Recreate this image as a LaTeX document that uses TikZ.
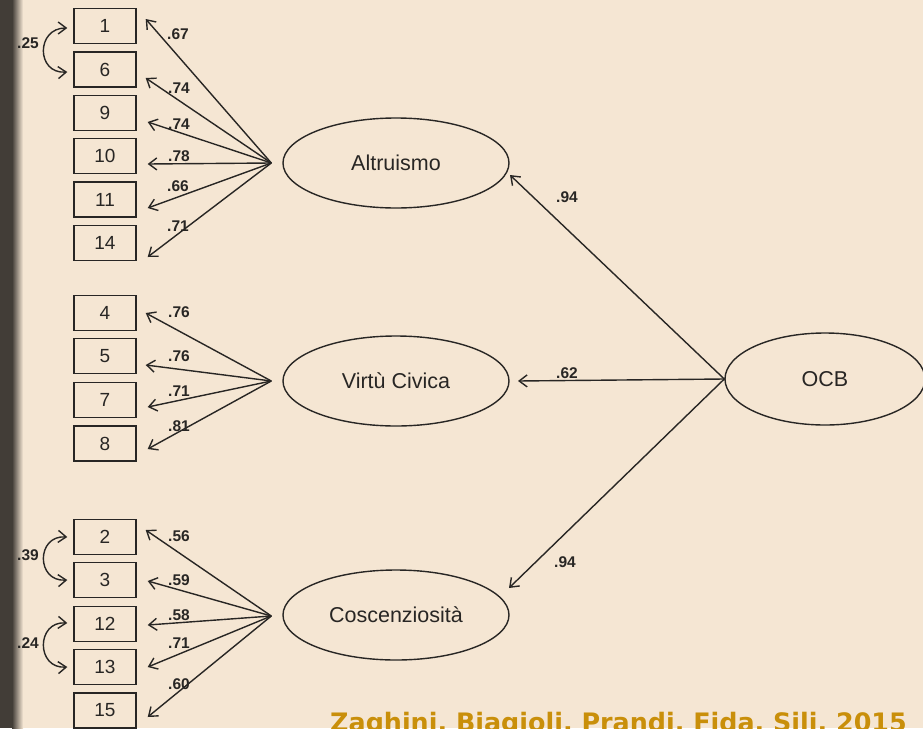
\documentclass[tikz,border=0pt]{standalone}
\usepackage{fontspec}
\setmainfont{Liberation Sans}
\newfontfamily\capfont{DejaVu Sans}
\usetikzlibrary{arrows.meta,shapes.geometric,calc}
\definecolor{bg}{RGB}{245,230,211}
\definecolor{ink}{RGB}{40,38,36}
\definecolor{gold}{RGB}{201,143,10}
\definecolor{strip}{RGB}{66,61,55}
\begin{document}
\begin{tikzpicture}[x=1pt,y=-1pt,
  obsbox/.style={draw=ink,line width=1.4pt,minimum width=62pt,minimum height=35pt,inner sep=0pt,font=\fontsize{19}{19}\selectfont,text=ink},
  latent/.style={ellipse,draw=ink,line width=1.4pt,minimum width=226pt,minimum height=90pt,inner sep=0pt,font=\fontsize{21.5}{21.5}\selectfont,text=ink},
  loadlbl/.style={font=\bfseries\fontsize{15.5}{15.5}\selectfont,text=ink,inner sep=0pt},
  loadarrow/.style={draw=ink,line width=1.4pt,-{Straight Barb[length=8pt,width=12pt]}},
  covarrow/.style={draw=ink,line width=1.4pt,{Straight Barb[length=8pt,width=12pt]}-{Straight Barb[length=8pt,width=12pt]}},
]
\fill[bg] (0,0) rectangle (923,728);
\fill[strip] (0,0) rectangle (12,728);
\shade[left color=strip,right color=bg] (12,0) rectangle (23,728);
\useasboundingbox (0,0) rectangle (923,728);

% latent variables
\node[latent] (altr) at (396,163) {Altruismo};
\node[latent] (virt) at (396,381) {Virtù Civica};
\node[latent] (cosc) at (396,615) {Coscenziosità};
\node[latent,minimum width=200pt,minimum height=92pt] (ocb) at (825,379) {OCB};

% observed items
\node[obsbox] (b1) at (105,26) {1};
\node[obsbox] (b6) at (105,69.5) {6};
\node[obsbox] (b9) at (105,113) {9};
\node[obsbox] (b10) at (105,156) {10};
\node[obsbox] (b11) at (105,199.5) {11};
\node[obsbox] (b14) at (105,243) {14};

\node[obsbox] (b4) at (105,313) {4};
\node[obsbox] (b5) at (105,356) {5};
\node[obsbox] (b7) at (105,400) {7};
\node[obsbox] (b8) at (105,443.5) {8};

\node[obsbox] (b2) at (105,537) {2};
\node[obsbox] (b3) at (105,580) {3};
\node[obsbox] (b12) at (105,624) {12};
\node[obsbox] (b13) at (105,667) {13};
\node[obsbox] (b15) at (105,710.5) {15};

% convergence points
\coordinate (cA) at ($(altr.west)+(-11,0)$);
\coordinate (cB) at ($(virt.west)+(-11,0)$);
\coordinate (cC) at ($(cosc.west)+(-11,1)$);

% arrow tips
\coordinate (t1) at ($(b1.east)+(9,-7)$);
\coordinate (t6) at ($(b6.east)+(9,8.5)$);
\coordinate (t9) at ($(b9.east)+(11,9)$);
\coordinate (t10) at ($(b10.east)+(11,8)$);
\coordinate (t11) at ($(b11.east)+(11,8.5)$);
\coordinate (t14) at ($(b14.east)+(11,14)$);
\coordinate (t4) at ($(b4.east)+(9,0)$);
\coordinate (t5) at ($(b5.east)+(9,9)$);
\coordinate (t7) at ($(b7.east)+(11,7)$);
\coordinate (t8) at ($(b8.east)+(11,5.5)$);
\coordinate (t2) at ($(b2.east)+(9,-7)$);
\coordinate (t3) at ($(b3.east)+(11,1)$);
\coordinate (t12) at ($(b12.east)+(11,1)$);
\coordinate (t13) at ($(b13.east)+(11,0)$);
\coordinate (t15) at ($(b15.east)+(11,6.5)$);

\foreach \t in {t1,t6,t9,t10,t11,t14} \draw[loadarrow] (cA) -- (\t);
\foreach \t in {t4,t5,t7,t8} \draw[loadarrow] (cB) -- (\t);
\foreach \t in {t2,t3,t12,t13,t15} \draw[loadarrow] (cC) -- (\t);

% loading labels
\node[loadlbl] (l1) at (178,34) {.67};
\node[loadlbl] (l6) at (179,88) {.74};
\node[loadlbl] (l9) at (179,124) {.74};
\node[loadlbl] (l10) at (179,156) {.78};
\node[loadlbl] (l11) at (178,186) {.66};
\node[loadlbl] (l14) at (178,226) {.71};
\node[loadlbl] (l4) at (179,312.5) {.76};
\node[loadlbl] (l5) at (179,356) {.76};
\node[loadlbl] (l7) at (179,391) {.71};
\node[loadlbl] (l8) at (179,426) {.81};
\node[loadlbl] (l2) at (179,536) {.56};
\node[loadlbl] (l3) at (179,580) {.59};
\node[loadlbl] (l12) at (179,615) {.58};
\node[loadlbl] (l13) at (179,643) {.71};
\node[loadlbl] (l15) at (179,684) {.60};

% structural paths
\coordinate (tAl) at (510,175);
\coordinate (tVi) at (518,381);
\coordinate (tCo) at (509,588);
\draw[loadarrow] (ocb.west) -- (tAl);
\draw[loadarrow] (ocb.west) -- (tVi);
\draw[loadarrow] (ocb.west) -- (tCo);
\node[loadlbl] (s1) at (567,197) {.94};
\node[loadlbl] (s2) at (567,373) {.62};
\node[loadlbl] (s3) at (565,562) {.94};

% covariances
\draw[covarrow] ($(b1.west)+(-6,2)$) .. controls (36,28) and (36,74) .. ($(b6.west)+(-6,2.5)$);
\draw[covarrow] ($(b2.west)+(-6,0)$) .. controls (36,535) and (36,582) .. ($(b3.west)+(-6,0)$);
\draw[covarrow] ($(b12.west)+(-6,-1)$) .. controls (36,621) and (36,669) .. ($(b13.west)+(-6,0)$);
\node[loadlbl] (c1) at (28,43) {.25};
\node[loadlbl] (c2) at (28,555) {.39};
\node[loadlbl] (c3) at (28,643) {.24};

% caption
\node[anchor=base west,inner sep=0pt,text=gold,font=\capfont\bfseries\fontsize{25.4}{26}\selectfont] (cap) at (330,731) {Zaghini, Biagioli, Prandi, Fida, Sili, 2015};
\end{tikzpicture}
\end{document}
